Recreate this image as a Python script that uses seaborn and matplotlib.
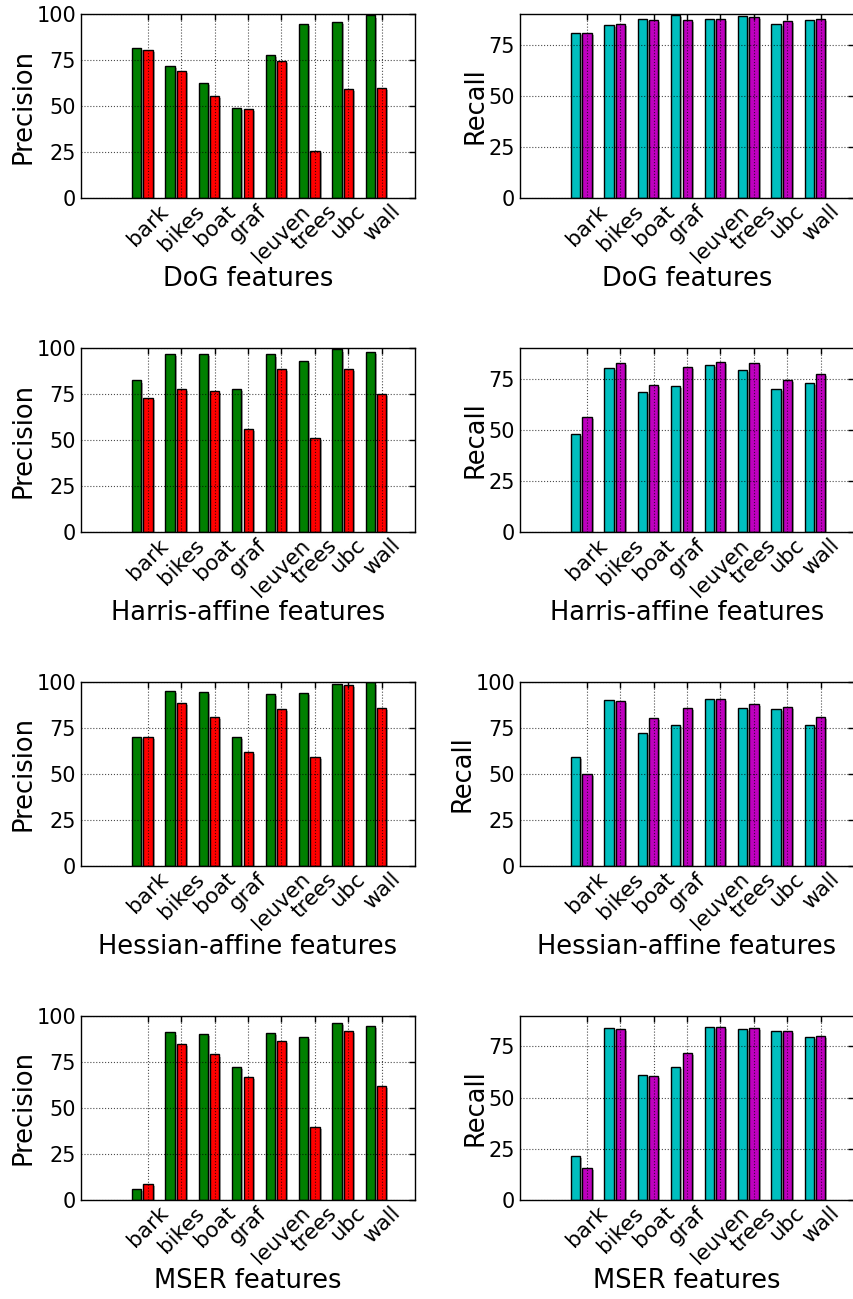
import numpy as np
import pandas as pd
import matplotlib
matplotlib.use("Agg")
import matplotlib.pyplot as plt
import matplotlib.patheffects as pe
import seaborn as sns

sns.set_theme(style="white")
plt.rcParams['font.family'] = ['DejaVu Sans']
plt.rcParams.update({'text.color': 'black', 'axes.labelcolor': 'black',
                     'xtick.color': 'black', 'ytick.color': 'black'})

# datasets on the x axis
datasets = ['bark', 'bikes', 'boat', 'graf', 'leuven', 'trees', 'ubc', 'wall']

# feature detectors (one row of panels each)
detectors = ['DoG', 'Harris-affine', 'Hessian-affine', 'MSER']

# precision: two series per detector (green, red)
prec_a = {
    'DoG':            [81.5, 71.7, 62.5, 48.9, 77.9, 94.6, 95.8, 99.1],
    'Harris-affine':  [82.3, 96.8, 96.9, 77.8, 96.4, 93.0, 99.1, 97.8],
    'Hessian-affine': [70.1, 95.0, 94.4, 69.7, 93.3, 93.9, 98.9, 99.5],
    'MSER':           [5.8, 90.8, 90.1, 72.2, 90.6, 88.3, 96.0, 94.2],
}
prec_b = {
    'DoG':            [80.6, 68.8, 55.6, 48.2, 74.6, 25.9, 59.1, 59.8],
    'Harris-affine':  [72.6, 77.8, 76.8, 56.0, 88.5, 51.2, 88.3, 75.1],
    'Hessian-affine': [70.1, 88.5, 80.9, 62.0, 85.0, 58.9, 98.0, 85.8],
    'MSER':           [8.5, 84.7, 78.9, 66.6, 86.1, 39.7, 91.5, 61.7],
}

# recall: two series per detector (cyan, magenta)
rec_a = {
    'DoG':            [80.5, 84.7, 87.5, 89.3, 87.3, 88.8, 84.9, 87.0],
    'Harris-affine':  [48.0, 80.0, 68.6, 71.4, 81.8, 79.4, 69.8, 72.7],
    'Hessian-affine': [59.3, 89.9, 72.3, 76.4, 90.6, 85.8, 84.9, 76.4],
    'MSER':           [21.5, 83.8, 60.8, 64.7, 84.3, 83.5, 82.5, 79.4],
}
rec_b = {
    'DoG':            [80.8, 84.9, 87.0, 87.2, 87.3, 88.5, 86.4, 87.5],
    'Harris-affine':  [56.3, 82.8, 71.7, 80.5, 83.0, 82.6, 74.2, 77.1],
    'Hessian-affine': [49.9, 89.7, 80.4, 85.9, 90.6, 87.9, 86.1, 80.9],
    'MSER':           [15.8, 83.5, 60.7, 71.7, 84.4, 83.9, 82.3, 80.0],
}

# upper y limit of each recall panel
rec_top = {'DoG': 90, 'Harris-affine': 90, 'Hessian-affine': 100, 'MSER': 90}

prec_colors = ['#008000', '#ff0000']
rec_colors = ['#00bfbf', '#bf00bf']

fig = plt.figure(figsize=(8.54, 12.99), dpi=100)

left_x = [81 / 854, 520 / 854]
ax_w = 334 / 854
ax_h = 184.5 / 1299
bottoms = [1 - 198.3 / 1299, 1 - 532.3 / 1299, 1 - 866 / 1299, 1 - 1200 / 1299]

tick_shift = 0.165


def draw_panel(ax, vals_a, vals_b, colors, ylabel, xlabel, ytop):
    df = pd.DataFrame({
        'dataset': datasets * 2,
        'value': list(vals_a) + list(vals_b),
        'series': ['a'] * len(datasets) + ['b'] * len(datasets),
    })
    sns.barplot(data=df, x='dataset', y='value', hue='series', order=datasets,
                hue_order=['a', 'b'], palette=colors, width=0.68, gap=0.2,
                edgecolor='black', linewidth=1, saturation=1, legend=False,
                errorbar=None, ax=ax)
    for p in ax.patches:
        p.set_path_effects([pe.SimplePatchShadow(offset=(1.5, -1.5), shadow_rgbFace='0.45', alpha=0.6),
                            pe.Normal()])
    ticks = np.arange(len(datasets)) + tick_shift
    ax.set_xticks(ticks)
    ax.set_xticklabels(datasets, rotation=45, ha='center', fontsize=15.5)
    ax.set_xlim(ticks[0] - 2, ticks[-1] + 1)
    ax.set_ylim(0, ytop)
    ax.set_yticks([0, 25, 50, 75, 100] if ytop >= 100 else [0, 25, 50, 75])
    ax.tick_params(axis='y', labelsize=15)
    ax.tick_params(axis='x', pad=2)
    ax.tick_params(direction='in', top=True, right=True, length=4, width=1, color='black')
    ax.set_ylabel(ylabel, fontsize=18.5, labelpad=0)
    ax.set_xlabel(xlabel, fontsize=18.5, labelpad=0)
    ax.set_axisbelow(False)
    ax.grid(True, linestyle=':', color='black', linewidth=0.8, alpha=0.7)
    for s in ax.spines.values():
        s.set_color('black')
        s.set_linewidth(1)


for r, det in enumerate(detectors):
    axp = fig.add_axes([left_x[0], bottoms[r], ax_w, ax_h])
    draw_panel(axp, prec_a[det], prec_b[det], prec_colors, 'Precision', f'{det} features', 100)
    axr = fig.add_axes([left_x[1], bottoms[r], ax_w, ax_h])
    draw_panel(axr, rec_a[det], rec_b[det], rec_colors, 'Recall', f'{det} features', rec_top[det])

fig.savefig('out.png', dpi=100)
